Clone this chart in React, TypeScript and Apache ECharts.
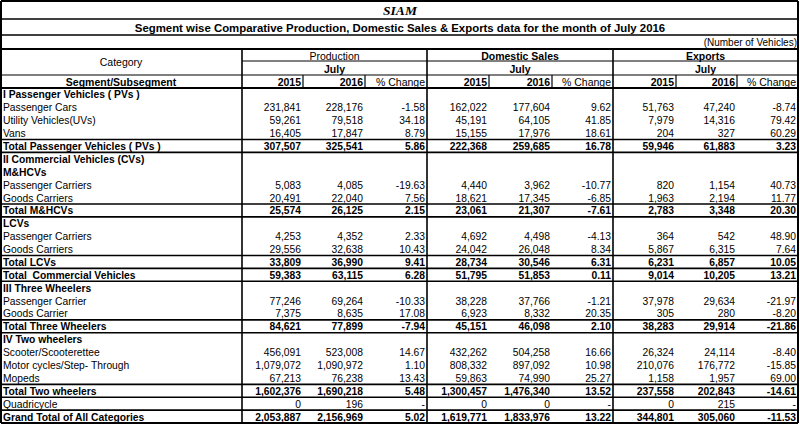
import React, { useEffect, useRef } from "react";
import * as echarts from "echarts";

const title = "SIAM";
const subtitle = "Segment wise Comparative Production, Domestic Sales & Exports data for the month of July 2016";
const unitNote = "(Number of Vehicles)";
const groupNames = ["Production", "Domestic Sales", "Exports"];
const monthLabel = "July";
const yearLabels = ["2015", "2016", "% Change"];

const rowLabels = [
  "I Passenger Vehicles ( PVs )",
  "Passenger Cars",
  "Utility Vehicles(UVs)",
  "Vans",
  "Total Passenger Vehicles ( PVs )",
  "II Commercial Vehicles (CVs)",
  "M&HCVs",
  "Passenger Carriers",
  "Goods Carriers",
  "Total M&HCVs",
  "LCVs",
  "Passenger Carriers",
  "Goods Carriers",
  "Total LCVs",
  "Total  Commercial Vehicles",
  "III Three Wheelers",
  "Passenger Carrier",
  "Goods Carrier",
  "Total Three Wheelers",
  "IV Two wheelers",
  "Scooter/Scooterettee",
  "Motor cycles/Step- Through",
  "Mopeds",
  "Total Two wheelers",
  "Quadricycle",
  "Grand Total of All Categories",
];

const boldRows = [
  true, false, false, false, true, true, true, false, false, true, true, false, false,
  true, true, true, false, false, true, true, false, false, false, true, false, true,
];

type V = number | null;
type C = number | string | null;

const production2015: V[] = [null, 231841, 59261, 16405, 307507, null, null, 5083, 20491, 25574, null, 4253, 29556, 33809, 59383, null, 77246, 7375, 84621, null, 456091, 1079072, 67213, 1602376, 0, 2053887];
const production2016: V[] = [null, 228176, 79518, 17847, 325541, null, null, 4085, 22040, 26125, null, 4352, 32638, 36990, 63115, null, 69264, 8635, 77899, null, 523008, 1090972, 76238, 1690218, 196, 2156969];
const productionChange: C[] = [null, -1.58, 34.18, 8.79, 5.86, null, null, -19.63, 7.56, 2.15, null, 2.33, 10.43, 9.41, 6.28, null, -10.33, 17.08, -7.94, null, 14.67, 1.1, 13.43, 5.48, "-", 5.02];

const domestic2015: V[] = [null, 162022, 45191, 15155, 222368, null, null, 4440, 18621, 23061, null, 4692, 24042, 28734, 51795, null, 38228, 6923, 45151, null, 432262, 808332, 59863, 1300457, 0, 1619771];
const domestic2016: V[] = [null, 177604, 64105, 17976, 259685, null, null, 3962, 17345, 21307, null, 4498, 26048, 30546, 51853, null, 37766, 8332, 46098, null, 504258, 897092, 74990, 1476340, 0, 1833976];
const domesticChange: C[] = [null, 9.62, 41.85, 18.61, 16.78, null, null, -10.77, -6.85, -7.61, null, -4.13, 8.34, 6.31, 0.11, null, -1.21, 20.35, 2.1, null, 16.66, 10.98, 25.27, 13.52, "-", 13.22];

const exports2015: V[] = [null, 51763, 7979, 204, 59946, null, null, 820, 1963, 2783, null, 364, 5867, 6231, 9014, null, 37978, 305, 38283, null, 26324, 210076, 1158, 237558, 0, 344801];
const exports2016: V[] = [null, 47240, 14316, 327, 61883, null, null, 1154, 2194, 3348, null, 542, 6315, 6857, 10205, null, 29634, 280, 29914, null, 24114, 176772, 1957, 202843, 215, 305060];
const exportsChange: C[] = [null, -8.74, 79.42, 60.29, 3.23, null, null, 40.73, 11.77, 20.3, null, 48.9, 7.64, 10.05, 13.21, null, -21.97, -8.2, -21.86, null, -8.4, -15.85, 69.0, -14.61, "-", -11.53];

// rows (by index) whose top edge carries a rule
const ruledRowEdges = [4, 5, 9, 10, 13, 14, 15, 18, 19, 23, 24, 25, 26];

const FONT = "Liberation Sans, Arial, sans-serif";

function fmtNum(v: V): string {
  if (v === null) return "";
  return v.toLocaleString("en-US");
}
function fmtChg(v: C): string {
  if (v === null) return "";
  if (typeof v === "string") return v;
  return v.toFixed(2);
}

export default function App() {
  const ref = useRef<HTMLDivElement>(null);
  useEffect(() => {
    if (!ref.current) return;
    const chart = echarts.init(ref.current, undefined, { renderer: "svg" });

    const L = 1, R = 798;
    const catRight = 242;
    const groupEdges = [242, 427, 613, 798];
    const subEdges = [
      [242, 303, 365, 427],
      [427, 489, 552, 613],
      [613, 676, 737, 798],
    ];
    const hTop = 1, hSiam = 19, hTitle = 35, hNote = 49, hGroup = 61, hMonth = 75, hHead = 88;
    const rowH = (423 - hHead) / rowLabels.length;
    const tableBottom = hHead + rowH * rowLabels.length;

    const els: any[] = [];
    const line = (x1: number, y1: number, x2: number, y2: number, w = 1, c = "#000") =>
      els.push({ type: "line", silent: true, shape: { x1, y1, x2, y2 }, style: { stroke: c, lineWidth: w } });
    const text = (t: string, x: number, y: number, opts: any = {}) =>
      els.push({
        type: "text", silent: true, x, y,
        style: {
          text: t, fill: "#000", fontFamily: FONT, fontSize: 10.3, fontWeight: "normal",
          align: "left", verticalAlign: "middle", ...opts,
        },
      });

    // Horizontal frame lines
    line(L, hTop, R, hTop, 2);
    line(L, hSiam, R, hSiam, 1.5);
    line(L, hTitle, R, hTitle, 1.5);
    line(L, hNote, R, hNote, 2);
    line(catRight, hGroup, R, hGroup, 1);
    line(L, hMonth, R, hMonth, 1.2);
    line(L, hHead, R, hHead, 2);
    ruledRowEdges.forEach((i) => {
      const y = hHead + i * rowH;
      line(L, y, R, y, i === rowLabels.length ? 2 : 1.6);
    });
    // Vertical lines
    line(L, hTop, L, tableBottom, 2);
    line(R, hTop, R, tableBottom, 2);
    groupEdges.slice(0, 3).forEach((x) => line(x, hNote, x, tableBottom, 1.6));
    subEdges.forEach((s) => {
      line(s[1], hMonth, s[1], hHead, 1.2);
      line(s[2], hMonth, s[2], hHead, 1.2);
    });

    // Titles
    text(title, 400, (hTop + hSiam) / 2 + 0.5, {
      fontFamily: "Liberation Serif, Times New Roman, serif", fontStyle: "italic", fontWeight: "bold",
      fontSize: 13.5, align: "center",
    });
    text(subtitle, 400, (hSiam + hTitle) / 2 + 0.5, { fontWeight: "bold", fontSize: 11.4, align: "center" });
    text(unitNote, 797, (hTitle + hNote) / 2 + 0.5, { align: "right", fontSize: 10 });

    // Headers
    text("Category", catRight / 2, (hNote + hMonth) / 2, { align: "center", fontSize: 10.5 });
    text("Segment/Subsegment", catRight / 2, (hMonth + hHead) / 2 + 0.5, { align: "center", fontWeight: "bold", fontSize: 10.5 });
    groupNames.forEach((g, gi) => {
      const cx = (groupEdges[gi] + groupEdges[gi + 1]) / 2;
      text(g, cx, (hNote + hGroup) / 2 + 0.5, { align: "center", fontSize: 10.5, fontWeight: gi === 0 ? "normal" : "bold" });
      text(monthLabel, cx, (hGroup + hMonth) / 2 + 0.5, { align: "center", fontSize: 10.5, fontWeight: "bold" });
      yearLabels.forEach((yl, k) => {
        text(yl, subEdges[gi][k + 1] - 2, (hMonth + hHead) / 2 + 0.5, {
          align: "right", fontSize: 10.5, fontWeight: k < 2 ? "bold" : "normal",
        });
      });
    });

    // Body
    const cols: [V[] | C[], boolean][] = [
      [production2015, false], [production2016, false], [productionChange, true],
      [domestic2015, false], [domestic2016, false], [domesticChange, true],
      [exports2015, false], [exports2016, false], [exportsChange, true],
    ];
    const rightEdges = [303, 365, 427, 489, 552, 613, 676, 737, 798];
    rowLabels.forEach((lab, i) => {
      const cy = hHead + (i + 0.5) * rowH + 0.5;
      const fw = boldRows[i] ? "bold" : "normal";
      text(lab, 3, cy, { fontWeight: fw });
      cols.forEach(([arr, isChg], c) => {
        const s = isChg ? fmtChg((arr as C[])[i]) : fmtNum((arr as V[])[i]);
        if (s) text(s, rightEdges[c] - 2, cy, { align: "right", fontWeight: fw });
      });
    });

    chart.setOption({
      animation: false,
      backgroundColor: "#fff",
      graphic: { elements: els },
    });
    return () => chart.dispose();
  }, []);
  return <div ref={ref} style={{ position: "fixed", left: 0, top: 0, width: 800, height: 438, background: "#fff" }} />;
}
